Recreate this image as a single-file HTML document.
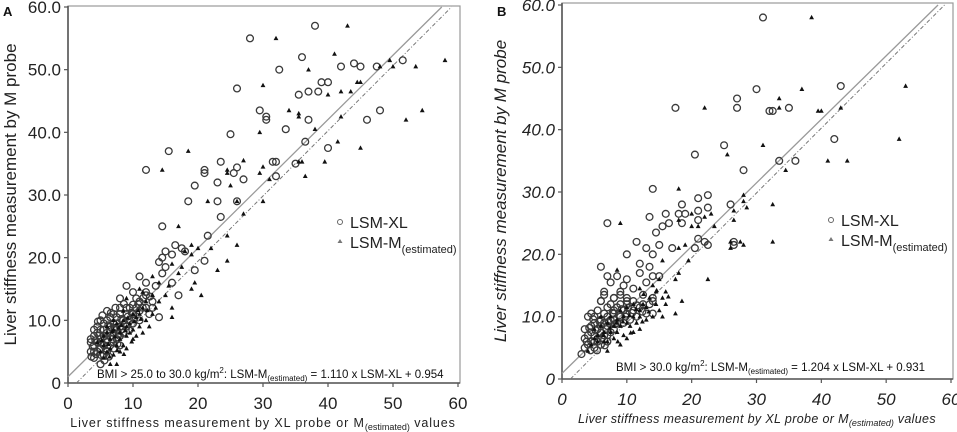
<!DOCTYPE html>
<html><head><meta charset="utf-8"><style>
html,body{margin:0;padding:0;background:#fff;}
svg{display:block;font-family:"Liberation Sans","DejaVu Sans",sans-serif;}
</style></head><body>
<svg id="chart" width="957" height="432" viewBox="0 0 957 432" xmlns="http://www.w3.org/2000/svg"></svg>
<script>
const xTicks = [0,10,20,30,40,50,60];
const yTicksA = ["0","10.0","20.0","30.0","40.0","50.0","60.0"];
const yTickVals = [0,10,20,30,40,50,60];
const circlesA = [[28,55],[38,57],[36,52],[44,51],[42,50.5],[45,50.5],[47.5,50.5],[51.5,51.5],[32.5,50],[26,47],[39,48],[40,48],[35.5,46],[37,46.5],[38.5,46.5],[29.5,43.5],[30.5,42.5],[30.5,42],[37,42],[46,42],[48,43.5],[33.5,40.5],[25,39.7],[36.5,38.5],[40,37.5],[15.5,37],[12,34],[23.5,35.3],[31.5,35.3],[32,35.3],[35,35],[26,34.4],[21,34],[21,33.5],[25.5,33.5],[27,32.5],[23,32],[32,33],[19.5,31.5],[18.5,29],[23,29],[26,29],[23.5,26.5],[14.5,25],[21.5,23.5],[16.5,22],[17.5,21.5],[18,21],[15,21],[16,20.5],[14,19.3],[14.5,20],[15,18.5],[21,19.5],[19.5,18],[16,16],[14.5,17.5],[17,14],[11,17],[9,15.5],[12,16],[13.5,15.5],[8,13.5],[10,14.5],[12,14],[14,10.5],[13,12],[10,12.5],[11,11.5],
[3.5,6.5],[3.5,5],[4,4],[4,6],[4,7.5],[4.5,5],[4.5,8],[4.5,9],[5,3],[5,5.5],[5,7],[5,8.5],[5,10],[5.5,4.5],[5.5,6],[5.5,9.5],[6,5],[6,7],[6,8],[6,10],[6,11.5],[6.5,6],[6.5,7.5],[6.5,9],[7,5.5],[7,8],[7,9.5],[7,11],[7.5,7],[7.5,8.5],[7.5,10.5],[8,7.5],[8,9],[8,11],[8,12],[8.5,8],[8.5,10],[9,9],[9,11],[9,12],[9.5,10],[10,9.5],[10,11],[10.5,12],[11,10],[11,13],[12,12],[12,14.5],[13,13],[3.5,7],[4,8.5],[5.5,7.5],[6.5,10.5],[7,6.5],[8,6],[9.5,12],[10.5,13.5],[11.5,12],[12.5,11],[4.5,6.5],[5,4.5],[6,6.5],[6.5,8.5],[7.5,9.5],[5.5,8.5],[4,5],
[3.8,5.8],[4.2,6.8],[4.8,7.6],[5.2,6.3],[5.8,5.2],[6.2,9.2],[6.8,7],[7.2,8.8],[7.8,7.8],[8.2,10.2],[8.8,9.4],[9.2,10.6],[9.8,11.2],[10.2,10.2],[5.3,10.8],[6.3,4.2],[4.3,4.6],[7.3,12],[8.6,12.6],[10.8,12.6],[11.6,13.6],[12.6,13.8],[3.6,4.2],[4.6,9.8],[5.6,3.6],[6.6,11.2],[7.6,6.2],[8.4,8.6],[9.4,8.4]];
const trianglesA = [[43,57],[32,55],[41,52.5],[37,50],[49.5,51.5],[48,50.5],[50,50.5],[53.5,50.5],[58,51.5],[30,47.5],[44.5,48],[45,48],[40,46],[42,46.5],[43.5,46.5],[34,43.5],[35.5,42.5],[35.5,43],[42,42.5],[52,42],[54.5,43.5],[38,40.5],[29.5,40],[41.5,38.5],[45,37.5],[18.5,37],[14.5,34],[27,35.5],[35.5,35.3],[36,35.3],[39.5,35.3],[30,34.5],[24.5,34],[24.5,33.5],[29.5,33.5],[31,32.5],[25,31.5],[36.5,33],[21.5,29],[26,29],[30,29],[27,27],[17,25],[24.5,23.5],[19,22],[26,22],[22,21.5],[20,21.5],[18,21],[19,20.5],[16,19],[17.5,18.5],[23,18],[24.5,19.5],[20.5,14],[19.5,16],[17,17.5],[19,15],[13,17],[11,15],[14,16],[15.5,15.5],[9,13.5],[11.5,14.5],[13,14],[16,10.5],[16,12],
[4.5,6.5],[5,5],[5.5,4],[5.5,6],[5.5,7.5],[6,5],[6,8],[6,9],[6.5,3],[6.5,5.5],[6.5,7],[7,8.5],[7,10],[7,4.5],[7.5,6],[7.5,9.5],[8,5],[8,7],[8,8],[8.5,10],[8.5,11.5],[8.5,6],[9,7.5],[9,9],[9,5.5],[9.5,8],[9.5,9.5],[10,11],[10,7],[10,8.5],[10.5,10.5],[10.5,7.5],[11,9],[11,11],[11.5,12],[11.5,8],[12,10],[12,13],[12.5,9],[13,11],[13.5,12],[14,13],[15,14],[7.5,3],[13,14],
[5.2,6.8],[6.2,6.2],[6.8,8.2],[7.2,7.4],[7.8,8.8],[8.2,9.2],[8.8,8.4],[9.2,10.4],[9.8,6.6],[10.2,9.8],[10.8,11.6],[11.2,10.2],[12.2,11.6],[6.4,4.2],[7.6,5.2],[8.6,4.6]];
const circlesB = [[31,58],[30,46.5],[43,47],[27,45],[27,43.5],[17.5,43.5],[32,43],[32.5,43],[35,43.5],[42,38.5],[25,37.5],[20.5,36],[33.5,35],[36,35],[28,33.5],[14,30.5],[22.5,29.5],[21,29],[18.5,28],[22.5,27.5],[26,28],[7,25],[16,26.5],[18,26.5],[19,26.5],[21,27],[13.5,26],[16.5,25],[18.5,25],[15.5,24.5],[21,25.5],[22,22],[22.5,21.5],[21,22.5],[11.5,22],[26.5,22],[26.5,21.5],[15,21.5],[17,21],[13,21],[14,20],[10,20],[14.5,23.5],[20.5,21],[6,18],[7,16.5],[8.5,16.5],[7.5,15.5],[9.5,15],[10,16],[12,18.5],[12,17],[13.5,18],[14,16.5],[15,16.5],[13,15.5],[11,14.5],[12.5,13.5],[14,13],[14,10.5],[9,13.5],[10,12.5],[8,13],[6.5,14],[6,12.5],
[3,4],[3.5,5],[3.5,6.5],[3.5,8],[4,5.5],[4,7],[4,10],[4.5,6],[4.5,8.5],[4.5,10.5],[5,5],[5,7],[5,9],[5,10],[5.5,6],[5.5,8],[5.5,11],[6,5.5],[6,7.5],[6,9.5],[6,12.5],[6.5,7],[6.5,9],[6.5,10.5],[7,6],[7,8.5],[7,10],[7,11.5],[7.5,7.5],[7.5,9.5],[7.5,12],[8,8],[8,10.5],[8,11],[8.5,9],[8.5,11.5],[9,10],[9,12],[9.5,9],[9.5,11],[10,10.5],[10,12],[10.5,9.5],[11,11],[11,12.5],[11.5,10],[12,11.5],[12.5,12],[13,10.5],[13.5,12],[14,12.5],[8,13],[9,14],[10,13],[6.5,13.5],[5.5,6.5],[7,7],[4.5,7.5],[6,8.5],[8,9.5],[5,6],
[3.8,6],[4.2,8.2],[4.8,9.6],[5.2,7.8],[5.8,9.2],[6.2,6.6],[6.8,8],[7.2,9.2],[7.8,10.6],[8.2,8.8],[8.8,10.2],[9.2,11.2],[9.8,10],[10.2,11.4],[10.8,10.6],[11.6,11.8],[12.4,10.8],[5.4,4.6],[6.6,5.4],[4.4,4.6]];
const trianglesB = [[38.5,58],[37,46.5],[53,47],[33.5,45],[33.5,43.5],[22,43.5],[39.5,43],[40,43],[43,43.5],[52,38.5],[31,37.5],[25.5,36],[41,35],[44,35],[34.5,33.5],[18,30.5],[28,29.5],[28,28.5],[32.5,28],[28.5,27.5],[26.5,27],[9,25],[20,26.5],[22,26],[23,26.5],[23.5,24.5],[21,24.5],[18,25.5],[20,24.5],[26.5,25.5],[26,22],[27.5,22],[32.5,22],[28,21.5],[26,21],[19,21.5],[18,21],[15.5,19],[19.5,19],[18,17],[17.5,16],[22.5,16],[8.5,17.5],[12,14.5],[14.5,14],[16,14],[18.5,12.5],[17.5,10.5],[15.5,10],
[4,4.5],[4.5,5.5],[5,6.5],[5,8],[5.5,6],[5.5,7],[6,8.5],[6,10],[6.5,6],[6.5,7.5],[7,9],[7,6],[7.5,7.5],[7.5,10],[8,8.5],[8,6.5],[8.5,9.5],[8.5,7.5],[9,11],[9,8.5],[9.5,10],[9.5,7],[10,9],[10,11.5],[10.5,8.5],[11,10],[11,12],[11.5,9],[12,11],[12,10],[12.5,12],[13,9.5],[13,11.5],[13.5,13],[14,10],[14.5,12],[15,11],[15.5,13],[16,12],[10,6.5],[12,8],[11,7.5],[9,5.5],[7,4.5],[14,15],[15,16],
[6.4,7],[7.4,8.2],[8.4,9],[9.4,9.2],[10.4,10.2],[11.4,11.2],[12.4,9.2],[13.4,10.8],[8.6,6],[10.6,7.4],[12.6,13.6],[16.4,13.2],[14.6,14.2]];

const NS = "http://www.w3.org/2000/svg";
const svg = document.getElementById('chart');
function mk(tag, attrs, parent, text){
  const e = document.createElementNS(NS, tag);
  for (const k in attrs) e.setAttribute(k, attrs[k]);
  if (text !== undefined) e.textContent = text;
  (parent || svg).appendChild(e);
  return e;
}

function panel(cfg){
  const g = mk('g', {});
  
  
  const sx = v => cfg.x0 + (cfg.x1 - cfg.x0) * v / 60;
  const sy = v => cfg.y0 - (cfg.y0 - cfg.y1) * v / 60;
  const it = cfg.italic ? 'italic' : 'normal';
  const fr = mk('rect', {x: cfg.x0, y: cfg.top, width: cfg.x1r - cfg.x0, height: cfg.y0 - cfg.top, fill: 'none', stroke: '#9a9a9a', 'stroke-width': 1.2}, g);
  
  
  mk('line', {x1: cfg.x0, y1: cfg.top, x2: cfg.x0, y2: cfg.y0, stroke: '#555', 'stroke-width': 1.6}, g);
  mk('line', {x1: cfg.x0, y1: cfg.y0, x2: cfg.x1r, y2: cfg.y0, stroke: '#555', 'stroke-width': 1.6}, g);
  xTicks.forEach(t => {
    mk('line', {x1: sx(t), y1: cfg.y0, x2: sx(t), y2: cfg.y0 + 4, stroke: '#555', 'stroke-width': 1.2}, g);
    const tl = mk('text', {x: sx(t), y: cfg.y0 + 26, 'text-anchor': 'middle', 'font-size': 17, 'font-style': it, fill: '#222'}, g, String(t));
    
    
  });
  yTickVals.forEach((t, i) => {
    mk('line', {x1: cfg.x0 - 4, y1: sy(t), x2: cfg.x0, y2: sy(t), stroke: '#555', 'stroke-width': 1.2}, g);
    const tl = mk('text', {x: cfg.x0 - 7, y: sy(t) + 6, 'text-anchor': 'end', 'font-size': 17, 'font-style': it, fill: '#222'}, g, yTicksA[i]);
    
    
  });
  const l1 = mk('line', {x1: sx(0), y1: sy(cfg.solidB), x2: sx(cfg.solidEnd), y2: sy(60), stroke: '#999', 'stroke-width': 1.3}, g);
  
  
  const l2 = mk('line', {x1: sx(1.3), y1: sy(0), x2: sx(59), y2: sy(60), stroke: '#777', 'stroke-width': 1, 'stroke-dasharray': '4,2,1,2'}, g);
  
  
  cfg.circles.forEach(p => {
    const c = mk('circle', {cx: sx(p[0]), cy: sy(p[1]), r: 3.4, fill: 'none', stroke: '#3a3a3a', 'stroke-width': 1.3}, g);
    
    
  });
  cfg.tris.forEach(p => {
    const x = sx(p[0]), y = sy(p[1]);
    const t = mk('polygon', {points: `${x},${y-2.6} ${x-2.4},${y+1.8} ${x+2.4},${y+1.8}`, fill: '#111'}, g);
    
    
  });
  const lg = mk('g', {}, g);
  
  
  mk('circle', {cx: cfg.lx, cy: cfg.ly, r: 2.5, fill: 'none', stroke: '#666', 'stroke-width': 1}, lg);
  mk('text', {x: cfg.lx + 10, y: cfg.ly + 6, 'font-size': 16, fill: '#222'}, lg, 'LSM-XL');
  mk('polygon', {points: `${cfg.lx},${cfg.ly+17} ${cfg.lx-2.5},${cfg.ly+21} ${cfg.lx+2.5},${cfg.ly+21}`, fill: '#777'}, lg);
  const t2 = mk('text', {x: cfg.lx + 10, y: cfg.ly + 26, 'font-size': 16, fill: '#222'}, lg, 'LSM-M');
  mk('tspan', {'font-size': 11, dy: 5}, t2, '(estimated)');
  const eq = mk('text', {x: cfg.ex, y: cfg.ey, 'font-size': 11.5, fill: '#111'}, g, cfg.eq1);
  
  
  mk('tspan', {'font-size': 8, dy: -5}, eq, '2');
  mk('tspan', {dy: 5}, eq, ': LSM-M');
  mk('tspan', {'font-size': 8, dy: 3}, eq, '(estimated)');
  mk('tspan', {dy: -3}, eq, cfg.eq2);
  const xt = mk('text', {x: cfg.xtx, y: cfg.y0 + 44, 'text-anchor': 'middle', 'font-size': 12.5, 'letter-spacing': cfg.ls, 'font-style': it, fill: '#222'}, g, 'Liver stiffness measurement by XL probe or M');
  
  
  mk('tspan', {'font-size': 9, dy: 3, 'letter-spacing': 0}, xt, '(estimated)');
  mk('tspan', {dy: -3}, xt, ' values');
  const yt = mk('text', {x: 0, y: 0, 'text-anchor': 'middle', 'font-size': 17, 'font-style': it, fill: '#222', transform: `translate(${cfg.ytx},${(cfg.top + cfg.y0) / 2}) rotate(-90)`}, g, 'Liver stiffness measurement by M probe');
  
  
  const pl = mk('text', {x: cfg.px, y: 16, 'font-size': 13, 'font-weight': 'bold', fill: '#111'}, g, cfg.id);
  
  
}

panel({id: 'A', x0: 68, x1: 458, x1r: 460, y0: 383, y1: 7, top: 6, italic: false, circles: circlesA, tris: trianglesA,
  solidB: 1, solidEnd: 57.5, lx: 340, ly: 222, ex: 97, ey: 378, eq1: 'BMI > 25.0 to 30.0 kg/m', eq2: ' = 1.110 x LSM-XL + 0.954', ytx: 16, px: 3, xtx: 263, ls: 0.9});
panel({id: 'B', x0: 562, x1: 951, x1r: 953, y0: 379, y1: 5, top: 3, italic: true, circles: circlesB, tris: trianglesB,
  solidB: 0.9, solidEnd: 58, lx: 831, ly: 220, ex: 616, ey: 371, eq1: 'BMI > 30.0 kg/m', eq2: ' = 1.204 x LSM-XL + 0.931', ytx: 506, px: 497, xtx: 757, ls: 0.35});
</script>
</body></html>
